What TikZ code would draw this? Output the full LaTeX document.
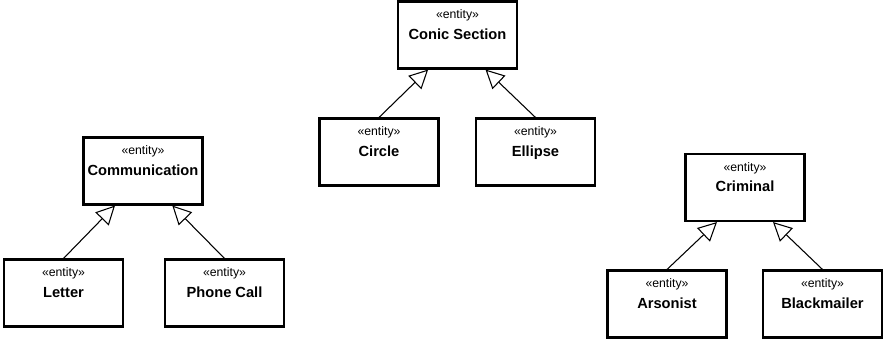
\documentclass[tikz,border=0pt]{standalone}
\usepackage{fontspec}
\setmainfont{Liberation Sans}
\usetikzlibrary{arrows.meta}
\tikzset{
  entitybox/.style={draw, line width=1.8pt, minimum width=89pt, minimum height=50pt,
    align=center, inner sep=0pt, font=\fontsize{11}{15.5}\selectfont},
  isa/.style={line width=0.8pt, -{Triangle[open, length=14pt, width=14pt, line width=0.8pt]}}
}
\newcommand{\entitytext}[1]{{\fontsize{9.2}{15.5}\selectfont «entity»}\\ \textbf{#1}\\ \mbox{}}
\begin{document}
\begin{tikzpicture}[x=0.75pt, y=-0.75pt]
        \useasboundingbox (0, 0) rectangle (883, 339);
        % conic sections
        \node[entitybox] (conic) at (457.5, 35) {\entitytext{Conic Section}};
        \node[entitybox] (circ) at (379, 152) {\entitytext{Circle}};
        \node[entitybox] (ellip) at (535.5, 152) {\entitytext{Ellipse}};
        \draw[isa] (circ.north) -- ([xshift=-22pt]conic.south);
        \draw[isa] (ellip.north) -- ([xshift=21pt]conic.south);
        % communication
        \node[entitybox] (comm) at (143, 171) {\entitytext{Communication}};
        \node[entitybox] (letter) at (63.5, 293) {\entitytext{Letter}};
        \node[entitybox] (phone) at (224.5, 293) {\entitytext{Phone Call}};
        \draw[isa] (letter.north) -- ([xshift=-21pt]comm.south);
        \draw[isa] (phone.north) -- ([xshift=22pt]comm.south);
        % criminals
        \node[entitybox] (criminal) at (745, 187.5) {\entitytext{Criminal}};
        \node[entitybox] (arsonist) at (667, 304) {\entitytext{Arsonist}};
        \node[entitybox] (blackmailer) at (822.5, 304) {\entitytext{Blackmailer}};
        \draw[isa] (arsonist.north) -- ([xshift=-21pt]criminal.south);
        \draw[isa] (blackmailer.north) -- ([xshift=21pt]criminal.south);
    \end{tikzpicture}
\end{document}
